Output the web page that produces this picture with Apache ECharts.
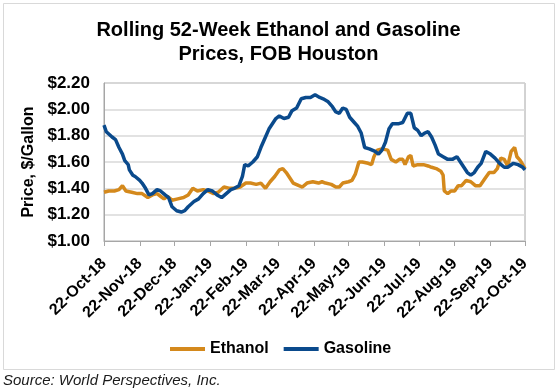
<!DOCTYPE html>
<html>
<head>
<meta charset="utf-8">
<script src="https://cdn.jsdelivr.net/npm/echarts@6/dist/echarts.min.js"></script>
<style>
html,body{margin:0;padding:0;background:#fff;}
#chart{width:557px;height:388px;}
</style>
</head>
<body>
<div id="chart"></div>
<script>
const titleText = 'Rolling 52-Week Ethanol and Gasoline\nPrices, FOB Houston';
const yAxisName = 'Price, $/Gallon';
const sourceText = 'Source: World Perspectives, Inc.';
const seriesNames = ['Ethanol', 'Gasoline'];

const tickDates = ['2018-10-22','2018-11-22','2018-12-22','2019-01-22','2019-02-22','2019-03-22',
  '2019-04-22','2019-05-22','2019-06-22','2019-07-22','2019-08-22','2019-09-22','2019-10-22'];
const yTicks = [1.00, 1.20, 1.40, 1.60, 1.80, 2.00, 2.20];

const ethanolDates = ['2018-10-22','2018-10-26','2018-10-31','2018-11-04','2018-11-07','2018-11-10','2018-11-15',
  '2018-11-20','2018-11-24','2018-11-29','2018-12-03','2018-12-07','2018-12-10','2018-12-13','2018-12-16',
  '2018-12-20','2018-12-25','2018-12-30','2019-01-03','2019-01-07','2019-01-11','2019-01-16','2019-01-20',
  '2019-01-25','2019-01-29','2019-02-03','2019-02-08','2019-02-12','2019-02-17','2019-02-22','2019-02-26',
  '2019-03-03','2019-03-07','2019-03-11','2019-03-15','2019-03-19','2019-03-23','2019-03-26','2019-03-29',
  '2019-04-01','2019-04-04','2019-04-09','2019-04-12','2019-04-16','2019-04-21','2019-04-26','2019-04-29',
  '2019-05-02','2019-05-07','2019-05-11','2019-05-14','2019-05-17','2019-05-22','2019-05-25','2019-05-28',
  '2019-05-31','2019-06-03','2019-06-08','2019-06-11','2019-06-13','2019-06-16','2019-06-20','2019-06-25',
  '2019-06-28','2019-07-02','2019-07-05','2019-07-08','2019-07-10','2019-07-13','2019-07-15','2019-07-17',
  '2019-07-21','2019-07-26','2019-07-30','2019-08-02','2019-08-06','2019-08-10','2019-08-12','2019-08-13',
  '2019-08-16','2019-08-19','2019-08-22','2019-08-25','2019-08-28','2019-09-01','2019-09-05','2019-09-09',
  '2019-09-13','2019-09-17','2019-09-21','2019-09-25','2019-09-28','2019-10-01','2019-10-04','2019-10-07',
  '2019-10-10','2019-10-13','2019-10-15','2019-10-18','2019-10-22'];
const ethanolValues = [1.37,1.38,1.38,1.39,1.42,1.38,1.37,
  1.36,1.36,1.33,1.35,1.36,1.34,1.32,1.34,
  1.31,1.32,1.33,1.35,1.40,1.38,1.39,1.38,
  1.36,1.37,1.41,1.40,1.40,1.41,1.44,1.44,
  1.43,1.44,1.40,1.45,1.49,1.54,1.55,1.52,
  1.48,1.44,1.42,1.41,1.44,1.45,1.44,1.45,
  1.44,1.43,1.41,1.41,1.44,1.45,1.46,1.51,
  1.60,1.60,1.59,1.58,1.64,1.69,1.70,1.69,
  1.62,1.60,1.62,1.62,1.58,1.64,1.65,1.57,
  1.58,1.58,1.57,1.56,1.55,1.53,1.50,1.38,
  1.36,1.38,1.38,1.42,1.42,1.46,1.45,1.42,
  1.42,1.47,1.52,1.52,1.55,1.63,1.62,1.57,
  1.68,1.71,1.64,1.61,1.55];

const gasolineDates = ['2018-10-22','2018-10-24','2018-10-29','2018-11-01','2018-11-04','2018-11-07','2018-11-09',
  '2018-11-12','2018-11-13','2018-11-16','2018-11-18','2018-11-22','2018-11-24','2018-11-27','2018-11-30',
  '2018-12-03','2018-12-07','2018-12-10','2018-12-14','2018-12-17','2018-12-20','2018-12-24','2018-12-28',
  '2018-12-31','2019-01-03','2019-01-08','2019-01-12','2019-01-16','2019-01-20','2019-01-24','2019-01-28',
  '2019-02-01','2019-02-05','2019-02-09','2019-02-12','2019-02-16','2019-02-19','2019-02-21','2019-02-24',
  '2019-02-28','2019-03-04','2019-03-07','2019-03-11','2019-03-14','2019-03-17','2019-03-20','2019-03-23',
  '2019-03-27','2019-03-31','2019-04-03','2019-04-07','2019-04-11','2019-04-15','2019-04-19','2019-04-23',
  '2019-04-27','2019-04-30','2019-05-04','2019-05-08','2019-05-11','2019-05-14','2019-05-17','2019-05-20',
  '2019-05-23','2019-05-27','2019-05-30','2019-06-02','2019-06-05','2019-06-09','2019-06-14','2019-06-17',
  '2019-06-20','2019-06-23','2019-06-26','2019-06-29','2019-07-04','2019-07-08','2019-07-12','2019-07-15',
  '2019-07-18','2019-07-21','2019-07-24','2019-07-27','2019-07-30','2019-08-02','2019-08-05','2019-08-08',
  '2019-08-12','2019-08-16','2019-08-20','2019-08-24','2019-08-27','2019-08-30','2019-09-02','2019-09-05',
  '2019-09-08','2019-09-11','2019-09-14','2019-09-18','2019-09-22','2019-09-26','2019-09-30','2019-10-04',
  '2019-10-07','2019-10-12','2019-10-16','2019-10-20','2019-10-22'];
const gasolineValues = [1.88,1.83,1.79,1.77,1.71,1.66,1.61,
  1.58,1.54,1.50,1.49,1.46,1.44,1.40,1.35,
  1.36,1.39,1.38,1.35,1.33,1.26,1.23,1.22,
  1.23,1.26,1.30,1.32,1.36,1.39,1.38,1.35,
  1.33,1.36,1.39,1.40,1.42,1.49,1.58,1.57,
  1.60,1.64,1.71,1.79,1.85,1.89,1.93,1.95,
  1.93,1.94,1.99,2.01,2.08,2.09,2.09,2.11,
  2.09,2.08,2.06,2.02,1.98,1.97,2.01,2.00,
  1.94,1.90,1.87,1.82,1.71,1.70,1.68,1.66,
  1.69,1.75,1.85,1.89,1.89,1.90,1.97,1.97,
  1.86,1.84,1.80,1.82,1.83,1.79,1.73,1.66,
  1.64,1.62,1.62,1.64,1.60,1.56,1.52,1.50,
  1.52,1.56,1.59,1.68,1.66,1.63,1.59,1.56,
  1.56,1.59,1.58,1.56,1.54];

const MONTHS = ['Jan','Feb','Mar','Apr','May','Jun','Jul','Aug','Sep','Oct','Nov','Dec'];
function ts(s) { const p = s.split('-').map(Number); return Date.UTC(p[0], p[1] - 1, p[2]); }
function fmtDate(v) {
  const d = new Date(v);
  return d.getUTCDate() + '-' + MONTHS[d.getUTCMonth()] + '-' + String(d.getUTCFullYear()).slice(2);
}
const tickTs = tickDates.map(ts);

const chart = echarts.init(document.getElementById('chart'), null, {renderer: 'canvas'});
const FONT = 'Liberation Sans, Arial, sans-serif';
chart.setOption({
  backgroundColor: '#fff',
  animation: false,
  title: {
    text: titleText,
    left: 'center',
    top: 13,
    textStyle: {fontFamily: FONT, fontSize: 20, fontWeight: 'bold', color: '#000', lineHeight: 24}
  },
  grid: {left: 104, right: 32, top: 83, bottom: 147, show: true, borderColor: '#A6A6A6', borderWidth: 1},
  legend: {
    left: 165, top: 336,
    itemWidth: 35, itemHeight: 4, itemGap: 15,
    icon: 'rect',
    textStyle: {fontFamily: FONT, fontSize: 16, fontWeight: 'bold', color: '#000'},
    data: seriesNames
  },
  xAxis: {
    type: 'value',
    min: tickTs[0], max: tickTs[tickTs.length - 1],
    axisLine: {show: true, lineStyle: {color: '#A6A6A6', width: 1}},
    axisTick: {show: true, length: 5, lineStyle: {color: '#A6A6A6'}, customValues: tickTs},
    axisLabel: {
      customValues: tickTs,
      rotate: 45, margin: 20,
      formatter: fmtDate,
      fontFamily: FONT, fontSize: 16, fontWeight: 'bold', color: '#000',
      showMinLabel: true, showMaxLabel: true
    },
    splitLine: {show: false}
  },
  yAxis: {
    type: 'value',
    min: yTicks[0], max: yTicks[yTicks.length - 1], interval: 0.2,
    name: yAxisName, nameLocation: 'middle', nameRotate: 90, nameGap: 65,
    nameTextStyle: {fontFamily: FONT, fontSize: 16, fontWeight: 'bold', color: '#000'},
    axisLine: {show: true, lineStyle: {color: '#A6A6A6', width: 1}},
    axisTick: {show: false},
    axisLabel: {
      formatter: v => '$' + v.toFixed(2),
      fontFamily: FONT, fontSize: 17, fontWeight: 'bold', color: '#000', margin: 14
    },
    splitLine: {show: true, lineStyle: {color: '#D9D9D9', width: 1.5}}
  },
  series: [
    {
      name: seriesNames[0], type: 'line', showSymbol: false, symbol: 'none',
      data: ethanolDates.map((d, i) => [ts(d), ethanolValues[i]]),
      lineStyle: {color: '#D4891C', width: 3.5}, itemStyle: {color: '#D4891C'}
    },
    {
      name: seriesNames[1], type: 'line', showSymbol: false, symbol: 'none',
      data: gasolineDates.map((d, i) => [ts(d), gasolineValues[i]]),
      lineStyle: {color: '#0A4A8C', width: 3.5}, itemStyle: {color: '#0A4A8C'}
    }
  ],
  graphic: [
    {type: 'rect', shape: {x: 3.5, y: 3.5, width: 551, height: 366}, style: {fill: 'none', stroke: '#D9D9D9', lineWidth: 1}, z: -1},
    {type: 'text', left: 3, top: 373, style: {text: sourceText, font: 'italic 15px Liberation Sans, Arial, sans-serif', fill: '#1a1a1a'}}
  ]
});
</script>
</body>
</html>
